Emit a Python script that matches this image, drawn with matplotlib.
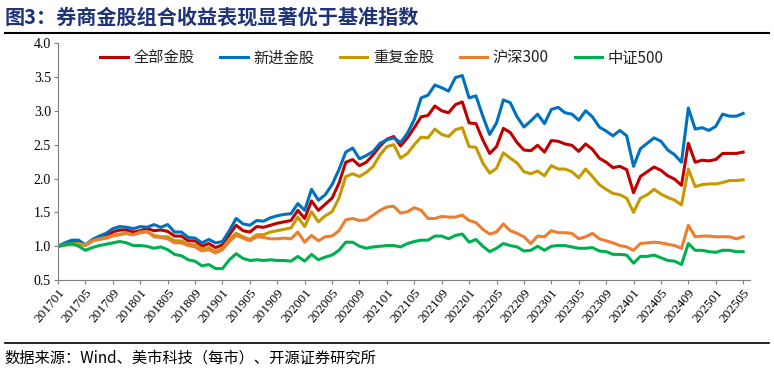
import matplotlib.pyplot as plt

plt.rcParams['font.family'] = ['Liberation Serif', 'Noto Sans CJK SC']

months = [f"{y}{m:02d}" for y in range(2017, 2026) for m in range(1, 13)][:101]

all_picks = [1.00, 1.03, 1.06, 1.06, 1.02, 1.08, 1.12, 1.15, 1.21, 1.24, 1.24, 1.21, 1.23, 1.26, 1.23, 1.24, 1.22, 1.15, 1.15, 1.08, 1.08, 1.00, 1.04, 0.98, 1.02, 1.17,
             1.31, 1.23, 1.21, 1.29, 1.28, 1.31, 1.34, 1.36, 1.38, 1.53, 1.41, 1.67, 1.53, 1.62, 1.71, 1.93, 2.24, 2.28, 2.19, 2.24, 2.35, 2.48, 2.58, 2.62, 2.48,
             2.60, 2.75, 2.91, 2.93, 3.07, 3.00, 2.97, 3.09, 3.13, 2.82, 2.81, 2.57, 2.37, 2.47, 2.74, 2.68, 2.53, 2.42, 2.41, 2.49, 2.39, 2.56, 2.55, 2.51, 2.49,
             2.40, 2.51, 2.43, 2.30, 2.24, 2.16, 2.18, 2.13, 1.79, 2.03, 2.10, 2.17, 2.12, 2.04, 1.99, 1.90, 2.52, 2.24, 2.27, 2.26, 2.28, 2.37, 2.37, 2.37, 2.39]
new_picks = [1.00, 1.05, 1.09, 1.09, 1.02, 1.10, 1.15, 1.19, 1.26, 1.29, 1.28, 1.26, 1.29, 1.28, 1.32, 1.28, 1.32, 1.21, 1.21, 1.13, 1.12, 1.05, 1.10, 1.05, 1.07, 1.23,
             1.41, 1.33, 1.31, 1.38, 1.37, 1.42, 1.45, 1.47, 1.48, 1.63, 1.53, 1.84, 1.68, 1.76, 1.91, 2.13, 2.39, 2.45, 2.29, 2.34, 2.40, 2.52, 2.57, 2.60, 2.53,
             2.67, 2.87, 3.19, 3.23, 3.38, 3.34, 3.29, 3.49, 3.52, 3.19, 3.22, 2.92, 2.65, 2.82, 3.16, 3.12, 2.91, 2.76, 2.85, 2.95, 2.81, 3.02, 3.05, 2.97, 2.95,
             2.86, 3.00, 2.91, 2.76, 2.70, 2.63, 2.71, 2.63, 2.18, 2.44, 2.52, 2.60, 2.55, 2.42, 2.35, 2.24, 3.04, 2.73, 2.75, 2.71, 2.77, 2.95, 2.92, 2.92, 2.96]
repeat_picks = [1.00, 1.02, 1.04, 1.04, 1.02, 1.08, 1.11, 1.13, 1.16, 1.18, 1.19, 1.17, 1.20, 1.21, 1.16, 1.14, 1.14, 1.08, 1.08, 1.03, 1.02, 0.96, 0.98, 0.92, 0.97, 1.10,
                1.19, 1.14, 1.10, 1.17, 1.17, 1.21, 1.23, 1.25, 1.27, 1.43, 1.29, 1.51, 1.36, 1.45, 1.51, 1.71, 2.03, 2.07, 2.03, 2.09, 2.18, 2.35, 2.47, 2.50, 2.30,
                2.37, 2.50, 2.61, 2.60, 2.73, 2.65, 2.62, 2.72, 2.75, 2.47, 2.46, 2.23, 2.08, 2.15, 2.38, 2.30, 2.23, 2.10, 2.07, 2.11, 2.04, 2.19, 2.14, 2.14, 2.10,
                2.01, 2.14, 2.03, 1.91, 1.84, 1.78, 1.76, 1.71, 1.50, 1.71, 1.76, 1.84, 1.77, 1.72, 1.68, 1.61, 2.14, 1.88, 1.91, 1.92, 1.92, 1.94, 1.97, 1.97, 1.98]
hs300 = [1.00, 1.02, 1.02, 1.03, 1.01, 1.08, 1.10, 1.12, 1.15, 1.17, 1.19, 1.17, 1.21, 1.22, 1.14, 1.13, 1.11, 1.05, 1.05, 1.01, 0.99, 0.93, 0.95, 0.90, 0.95, 1.07,
         1.16, 1.12, 1.08, 1.14, 1.13, 1.11, 1.11, 1.12, 1.11, 1.21, 1.06, 1.16, 1.08, 1.14, 1.15, 1.23, 1.39, 1.41, 1.38, 1.39, 1.46, 1.53, 1.58, 1.59, 1.49,
         1.51, 1.57, 1.53, 1.41, 1.41, 1.44, 1.43, 1.43, 1.46, 1.38, 1.35, 1.25, 1.18, 1.21, 1.33, 1.23, 1.19, 1.14, 1.04, 1.15, 1.14, 1.23, 1.20, 1.20, 1.19,
         1.11, 1.14, 1.19, 1.11, 1.08, 1.05, 1.01, 0.99, 0.94, 1.04, 1.05, 1.06, 1.05, 1.03, 1.01, 0.97, 1.31, 1.14, 1.15, 1.15, 1.14, 1.14, 1.14, 1.11, 1.14]
zz500 = [1.00, 1.02, 1.04, 1.00, 0.94, 0.98, 1.01, 1.03, 1.05, 1.07, 1.05, 1.01, 1.01, 1.00, 0.97, 0.99, 0.95, 0.88, 0.86, 0.80, 0.78, 0.71, 0.73, 0.67, 0.67, 0.80,
         0.89, 0.82, 0.79, 0.80, 0.79, 0.80, 0.79, 0.79, 0.78, 0.85, 0.78, 0.88, 0.80, 0.84, 0.87, 0.94, 1.06, 1.06, 1.00, 0.97, 0.99, 1.00, 1.01, 1.01, 0.99,
         1.04, 1.07, 1.09, 1.09, 1.15, 1.15, 1.11, 1.16, 1.18, 1.06, 1.10, 1.00, 0.92, 0.97, 1.04, 1.01, 0.99, 0.93, 0.94, 1.00, 0.94, 1.00, 1.01, 1.01, 0.99,
         0.97, 0.97, 0.98, 0.93, 0.92, 0.88, 0.88, 0.87, 0.75, 0.85, 0.85, 0.87, 0.83, 0.79, 0.78, 0.73, 1.04, 0.94, 0.94, 0.92, 0.91, 0.94, 0.94, 0.92, 0.92]

series = [('全部金股', all_picks, '#C00000'),
          ('新进金股', new_picks, '#0070C0'),
          ('重复金股', repeat_picks, '#C49A00'),
          ('沪深300', hs300, '#ED7D31'),
          ('中证500', zz500, '#00B050')]

fig = plt.figure(figsize=(7.74, 3.74), dpi=100)
ax = fig.add_axes([0.075, 0.251, 0.894, 0.634])

x = list(range(len(months)))
for name, vals, color in series:
    ax.plot(x, vals, color=color, lw=2.2, label=name)

ax.set_xlim(0, 101)
ax.set_ylim(0.5, 4.0)
ax.set_yticks([0.5, 1.0, 1.5, 2.0, 2.5, 3.0, 3.5, 4.0])
ax.set_yticklabels(['%.1f' % v for v in ax.get_yticks()], fontsize=10)
ax.set_xticks(x[::4])
ax.set_xticklabels(months[::4], rotation=50, ha='right', va='top',
                   rotation_mode='anchor', fontsize=9.5)
ax.tick_params(axis='both', direction='out', length=3, color='#7f7f7f', pad=2)
ax.spines['top'].set_visible(False)
ax.spines['right'].set_visible(False)
ax.spines['left'].set_color('#7f7f7f')
ax.spines['bottom'].set_color('#7f7f7f')

leg = ax.legend(loc='upper center', bbox_to_anchor=(0.468, 1.03), ncol=5, frameon=False,
                handlelength=1.8, columnspacing=1.7, handletextpad=0.35,
                prop={'family': ['Noto Sans CJK SC'], 'size': 11, 'weight': 'light'})
for t in leg.get_texts():
    t.set_color('#222222')

fig.text(0.006, 0.955, '图3：券商金股组合收益表现显著优于基准指数', fontsize=14.5,
         fontweight='bold', color='#1F3478', va='center',
         family=['Noto Sans CJK SC'])
fig.add_artist(plt.Line2D([0.006, 0.994], [0.912, 0.912], color='black', lw=1.5))
fig.add_artist(plt.Line2D([0.006, 0.994], [0.083, 0.083], color='black', lw=1.2))
fig.text(0.006, 0.043, '数据来源：Wind、美市科技（每市）、开源证券研究所', fontsize=11,
         va='center', family=['Noto Sans CJK SC', 'Liberation Serif'])

fig.savefig('out.png', dpi=100)
